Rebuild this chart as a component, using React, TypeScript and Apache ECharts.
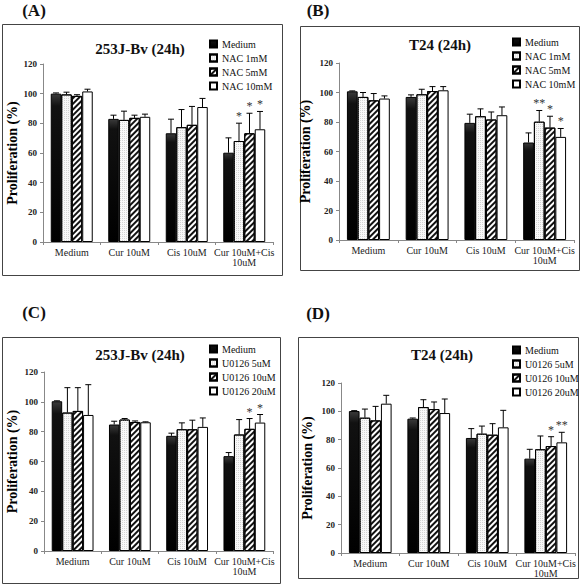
import React, { useEffect, useRef } from 'react';
import * as echarts from 'echarts';

const categories = ['Medium', 'Cur 10uM', 'Cis 10uM', 'Cur 10uM+Cis\n10uM'];
const nacNames = ['Medium', 'NAC 1mM', 'NAC 5mM', 'NAC 10mM'];
const uNames = ['Medium', 'U0126 5uM', 'U0126 10uM', 'U0126 20uM'];

// Panel A: 253J-Bv (24h), NAC
const aMedium = [100, 83, 73.3, 60.2];
const aMediumErr = [0.5, 2.5, 9.5, 10];
const aNac1 = [99.5, 82.3, 77.4, 68.1];
const aNac1Err = [1.5, 5.9, 11.9, 12];
const aNac5 = [98.5, 83.7, 79, 73.3];
const aNac5Err = [0.8, 1.8, 12.4, 13.5];
const aNac10 = [101.5, 84.4, 91, 76];
const aNac10Err = [1.5, 1.8, 5.8, 12];
const aStars = [['', '', '', ''], ['', '', '', '*'], ['', '', '', '*'], ['', '', '', '*']];

// Panel B: T24 (24h), NAC
const bMedium = [100.8, 97, 79.4, 66.1];
const bMediumErr = [0.3, 1.4, 5.9, 6.5];
const bNac1 = [97, 98.8, 83.9, 80.2];
const bNac1Err = [3, 3.4, 5, 7.6];
const bNac5 = [94.7, 101, 81.7, 76.2];
const bNac5Err = [4.6, 3, 5.1, 7.7];
const bNac10 = [95.9, 101.5, 84.6, 69.9];
const bNac10Err = [1.8, 2.5, 5.6, 5.7];
const bStars = [['', '', '', ''], ['', '', '', '**'], ['', '', '', '*'], ['', '', '', '*']];

// Panel C: 253J-Bv (24h), U0126
const cMedium = [100.4, 84.8, 77.2, 63.6];
const cMediumErr = [0.3, 2.2, 1.8, 2.4];
const cU5 = [92.8, 88.1, 81.6, 78.1];
const cU5Err = [16.7, 0.7, 4.3, 10];
const cU10 = [93.9, 86.5, 81.6, 81.9];
const cU10Err = [15.6, 0.7, 6.1, 6.9];
const cU20 = [91.2, 86.3, 83.2, 86.1];
const cU20Err = [20.3, 0.3, 6, 5.4];
const cStars = [['', '', '', ''], ['', '', '', ''], ['', '', '', '*'], ['', '', '', '*']];

// Panel D: T24 (24h), U0126
const dMedium = [100.2, 94.8, 81.2, 66.6];
const dMediumErr = [0.3, 0.5, 6.6, 6.6];
const dU5 = [95.5, 103, 84.2, 73.2];
const dU5Err = [6.1, 5.2, 5.4, 9.4];
const dU10 = [93.6, 101.6, 83.5, 75.5];
const dU10Err = [9.9, 5, 7.8, 6.6];
const dU20 = [105.4, 98.8, 88.7, 78.1];
const dU20Err = [5.9, 9.9, 12, 7.1];
const dStars = [['', '', '', ''], ['', '', '', ''], ['', '', '', '*'], ['', '', '', '**']];

const SERIF = "'Liberation Serif', 'Times New Roman', serif";
const GAP = 0.27;

const barStyles: any[] = [
  {
    color: new echarts.graphic.LinearGradient(0, 0, 0, 1, [
      { offset: 0, color: '#3a3a3a' },
      { offset: 0.08, color: '#111' },
      { offset: 1, color: '#000' },
    ]),
    borderColor: '#000',
    borderWidth: 1,
  },
  {
    color: '#f8f8f8',
    borderColor: '#000',
    borderWidth: 1,
    decal: { symbol: 'rect', symbolSize: 1, dashArrayX: [1, 1], dashArrayY: [1, 1], color: '#d4d4d4' },
  },
  {
    color: '#fff',
    borderColor: '#000',
    borderWidth: 1,
    decal: { symbol: 'rect', symbolSize: 1, dashArrayX: [1, 0], dashArrayY: [2, 2], rotation: -Math.PI / 4, color: '#111' },
  },
  { color: '#fff', borderColor: '#000', borderWidth: 1 },
];

type Panel = {
  names: string[];
  values: number[][];
  errors: number[][];
  stars: string[][];
  grid: { left: number; top: number; width: number; height: number };
  legend: { left: number; top: number };
  nameGap: number;
};

const panels: Panel[] = [
  {
    names: nacNames,
    values: [aMedium, aNac1, aNac5, aNac10],
    errors: [aMediumErr, aNac1Err, aNac5Err, aNac10Err],
    stars: aStars,
    grid: { left: 43, top: 64, width: 230, height: 178 },
    legend: { left: 209, top: 38 },
    nameGap: 24,
  },
  {
    names: nacNames,
    values: [bMedium, bNac1, bNac5, bNac10],
    errors: [bMediumErr, bNac1Err, bNac5Err, bNac10Err],
    stars: bStars,
    grid: { left: 339, top: 63, width: 235, height: 177 },
    legend: { left: 512, top: 36 },
    nameGap: 27,
  },
  {
    names: uNames,
    values: [cMedium, cU5, cU10, cU20],
    errors: [cMediumErr, cU5Err, cU10Err, cU20Err],
    stars: cStars,
    grid: { left: 44, top: 372, width: 229, height: 179 },
    legend: { left: 209, top: 343 },
    nameGap: 25,
  },
  {
    names: uNames,
    values: [dMedium, dU5, dU10, dU20],
    errors: [dMediumErr, dU5Err, dU10Err, dU20Err],
    stars: dStars,
    grid: { left: 341, top: 383, width: 234, height: 170 },
    legend: { left: 512, top: 344 },
    nameGap: 27,
  },
];

const panelTitles = ['253J-Bv (24h)', 'T24 (24h)', '253J-Bv (24h)', 'T24 (24h)'];
const panelLetters = ['(A)', '(B)', '(C)', '(D)'];

export default function App() {
  const ref = useRef<HTMLDivElement>(null);
  useEffect(() => {
    if (!ref.current) return;
    const chart = echarts.init(ref.current, undefined, { renderer: 'svg' });
    const grids: any[] = [];
    const xAxes: any[] = [];
    const yAxes: any[] = [];
    const legends: any[] = [];
    const series: any[] = [];

    panels.forEach((p, pi) => {
      grids.push({ ...p.grid, containLabel: false });
      xAxes.push({
        type: 'category',
        gridIndex: pi,
        data: categories,
        axisLine: { lineStyle: { color: '#888', width: 1 } },
        axisTick: { show: true, length: 3, lineStyle: { color: '#888' } },
        axisLabel: { interval: 0, fontFamily: SERIF, fontSize: 10, lineHeight: 10, color: '#222', margin: 5 },
      });
      yAxes.push({
        type: 'value',
        gridIndex: pi,
        min: 0,
        max: 120,
        interval: 20,
        name: 'Proliferation (%)',
        nameLocation: 'middle',
        nameGap: p.nameGap,
        nameTextStyle: { fontFamily: SERIF, fontWeight: 'bold', fontSize: 14, color: '#000' },
        axisLine: { show: true, lineStyle: { color: '#888', width: 1 } },
        axisTick: { show: true, length: 3, lineStyle: { color: '#888' } },
        axisLabel: { fontFamily: SERIF, fontWeight: 'bold', fontSize: 9, color: '#222', margin: 6 },
        splitLine: { show: false },
      });
      legends.push({
        data: p.names,
        orient: 'vertical',
        left: p.legend.left,
        top: p.legend.top,
        icon: 'rect',
        itemWidth: 7,
        itemHeight: 7,
        itemGap: 2,
        padding: 0,
        selectedMode: false,
        textStyle: { fontFamily: SERIF, fontSize: 10, lineHeight: 12, color: '#111' },
      });
      p.names.forEach((n, si) => {
        series.push({
          type: 'bar',
          name: n,
          xAxisIndex: pi,
          yAxisIndex: pi,
          data: p.values[si],
          barGap: '0%',
          barCategoryGap: GAP * 100 + '%',
          itemStyle: barStyles[si],
          emphasis: { disabled: true },
        });
      });
      const errData: any[] = [];
      for (let si = 0; si < 4; si++) {
        for (let ci = 0; ci < 4; ci++) {
          errData.push([ci, si, p.values[si][ci], p.errors[si][ci]]);
        }
      }
      const stars = p.stars;
      series.push({
        type: 'custom',
        name: 'err' + pi,
        xAxisIndex: pi,
        yAxisIndex: pi,
        z: 10,
        silent: true,
        itemStyle: { color: '#000' },
        data: errData,
        encode: { x: 0, y: 2 },
        renderItem: (params: any, api: any) => {
          const ci = api.value(0);
          const si = api.value(1);
          const v = api.value(2);
          const e = api.value(3);
          const base = api.coord([ci, v]);
          const top = api.coord([ci, v + e]);
          const band = api.size([1, 0])[0];
          const groupW = band * (1 - GAP);
          const bw = groupW / 4;
          const x = base[0] - groupW / 2 + (si + 0.5) * bw;
          const children: any[] = [
            { type: 'line', shape: { x1: x, y1: base[1], x2: x, y2: top[1] }, style: { stroke: '#000', lineWidth: 1 } },
            { type: 'line', shape: { x1: x - 3, y1: top[1], x2: x + 3, y2: top[1] }, style: { stroke: '#000', lineWidth: 1 } },
          ];
          const st = stars[si][ci];
          if (st) {
            children.push({
              type: 'text',
              style: {
                legacy: false,
                text: st,
                x: x,
                y: top[1] - 1,
                align: 'center',
                verticalAlign: 'bottom',
                fill: '#333',
                font: `12px ${SERIF}`,
              },
            });
          }
          return { type: 'group', children };
        },
      });
    });

    const boxes = [
      { x: 2, y: 24, w: 280, h: 251 },
      { x: 300, y: 26, w: 279, h: 244 },
      { x: 2, y: 337, w: 278, h: 246 },
      { x: 298, y: 337, w: 280, h: 241 },
    ];
    const titlePos = [
      [140, 49],
      [440, 45],
      [140, 355],
      [442, 355],
    ];
    const letterPos = [
      [34, 10],
      [318, 10],
      [34, 312],
      [318, 313],
    ];
    const graphics: any[] = [];
    boxes.forEach((b, i) => {
      graphics.push({
        type: 'rect',
        shape: { x: b.x + 0.5, y: b.y + 0.5, width: b.w, height: b.h },
        style: { fill: 'none', stroke: '#444', lineWidth: 1 },
        z: -1,
      });
      graphics.push({
        type: 'text',
        x: titlePos[i][0],
        y: titlePos[i][1],
        style: { text: panelTitles[i], textAlign: 'center', textVerticalAlign: 'middle', font: `bold 15px ${SERIF}`, fill: '#111' },
      });
      graphics.push({
        type: 'text',
        x: letterPos[i][0],
        y: letterPos[i][1],
        style: { text: panelLetters[i], textAlign: 'center', textVerticalAlign: 'middle', font: `bold 17px ${SERIF}`, fill: '#111' },
      });
    });

    chart.setOption({
      animation: false,
      backgroundColor: '#fff',
      grid: grids,
      xAxis: xAxes,
      yAxis: yAxes,
      legend: legends,
      series,
      graphic: graphics,
    });
    return () => chart.dispose();
  }, []);
  return <div ref={ref} style={{ position: 'absolute', left: 0, top: 0, width: 580, height: 588 }} />;
}
